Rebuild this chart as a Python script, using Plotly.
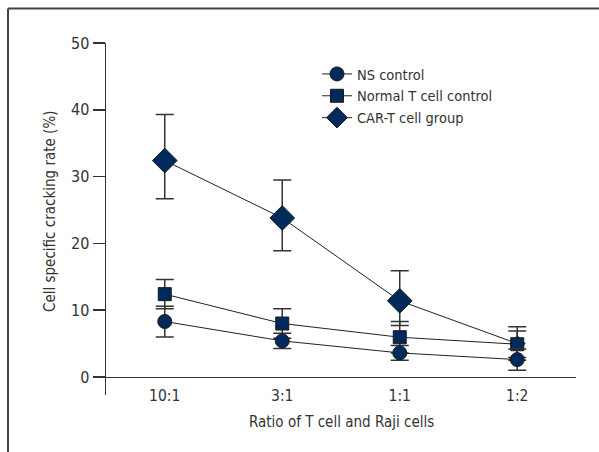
import plotly.graph_objects as go

categories = ["10:1", "3:1", "1:1", "1:2"]
ns_control = [8.3, 5.4, 3.6, 2.6]
ns_err = [2.3, 1.15, 1.1, 1.6]
normal_t = [12.4, 8.0, 5.95, 4.9]
normal_err = [2.2, 2.2, 2.35, 2.0]
car_t = [32.4, 23.8, 11.4, 5.0]
car_err_plus = [6.9, 5.7, 4.5, 2.5]
car_err_minus = [5.7, 4.9, 3.7, 2.5]
y_ticks = [0, 10, 20, 30, 40, 50]

FONT = "Liberation Sans Narrow, DejaVu Sans Condensed, Arial Narrow, sans-serif"
FILL = "#002a5c"
EDGE = "#1a1a1a"
ERR = "#333333"
TXT = "#333333"
xidx = list(range(len(categories)))

fig = go.Figure()
fig.add_trace(go.Scatter(
    x=xidx, y=car_t, name="CAR-T cell group", mode="lines+markers",
    line=dict(color="#222222", width=1),
    marker=dict(symbol="diamond", size=[19, 19, 19, 12], opacity=1, color=FILL,
                line=dict(color=EDGE, width=1)),
    error_y=dict(type="data", array=car_err_plus, arrayminus=car_err_minus, symmetric=False,
                 color=ERR, thickness=1.5, width=9),
))
fig.add_trace(go.Scatter(
    x=xidx, y=normal_t, name="Normal T cell control", mode="lines+markers",
    line=dict(color="#222222", width=1),
    marker=dict(symbol="square", size=13, opacity=1, color=FILL, line=dict(color=EDGE, width=1)),
    error_y=dict(type="data", array=normal_err, color=ERR, thickness=1.5, width=9),
))
fig.add_trace(go.Scatter(
    x=xidx, y=ns_control, name="NS control", mode="lines+markers",
    line=dict(color="#222222", width=1),
    marker=dict(symbol="circle", size=14, opacity=1, color=FILL, line=dict(color=EDGE, width=1)),
    error_y=dict(type="data", array=ns_err, color=ERR, thickness=1.5, width=9),
))

ymin, ymax = -2.7, 50
L, R, T, B = 106, 23, 43, 57
W, H = 599, 452
pw, ph = W - L - R, H - T - B

def px_x(p):
    return (p - L) / pw

def px_y(p):
    return (H - B - p) / ph

fig.update_layout(
    width=W, height=H,
    margin=dict(l=L, r=R, t=T, b=B, pad=0),
    paper_bgcolor="white", plot_bgcolor="white",
    font=dict(family=FONT, size=15, color=TXT),
    showlegend=True, hovermode=False,
    legend=dict(x=px_x(317), y=px_y(58), xanchor="left", yanchor="top",
                traceorder="reversed", bgcolor="rgba(0,0,0,0)",
                font=dict(family=FONT, size=14.5, color=TXT),
                tracegroupgap=0, itemsizing="trace"),
    xaxis=dict(
        range=[-0.5, 3.5], tickmode="array", tickvals=xidx, ticktext=categories,
        showgrid=False, zeroline=False, showline=True, linecolor="#333333", linewidth=1.5,
        ticks="", anchor="free", position=(0 - ymin) / (ymax - ymin),
        ticklabelstandoff=4, tickfont=dict(size=15.5),
    ),
    yaxis=dict(
        range=[ymin, ymax], tickmode="array", tickvals=y_ticks,
        showgrid=False, zeroline=False, showline=True, linecolor="#333333", linewidth=1.5,
        ticks="outside", ticklen=12, tickwidth=1.5, tickcolor="#333333",
        tickfont=dict(size=16),
    ),
    annotations=[
        dict(text="Cell specific cracking rate (%)", textangle=-90, showarrow=False,
             xref="paper", yref="paper", x=px_x(50), y=px_y(212),
             xanchor="center", yanchor="middle", font=dict(family=FONT, size=15, color=TXT)),
        dict(text="Ratio of T cell and Raji cells", showarrow=False,
             xref="paper", yref="paper", x=px_x(341), y=px_y(422),
             xanchor="center", yanchor="middle", font=dict(family=FONT, size=15, color=TXT)),
    ],
    shapes=[
        dict(type="line", xref="paper", yref="paper", x0=px_x(8), x1=px_x(W + 2),
             y0=px_y(8.5), y1=px_y(8.5), line=dict(color="#444444", width=2)),
        dict(type="line", xref="paper", yref="paper", x0=px_x(8), x1=px_x(8),
             y0=px_y(8.5), y1=px_y(H + 2), line=dict(color="#444444", width=2)),
    ],
)

fig.write_html("out.html", config={"displayModeBar": False, "staticPlot": True},
               post_script="document.body.style.margin='0';document.body.style.overflow='hidden';")
